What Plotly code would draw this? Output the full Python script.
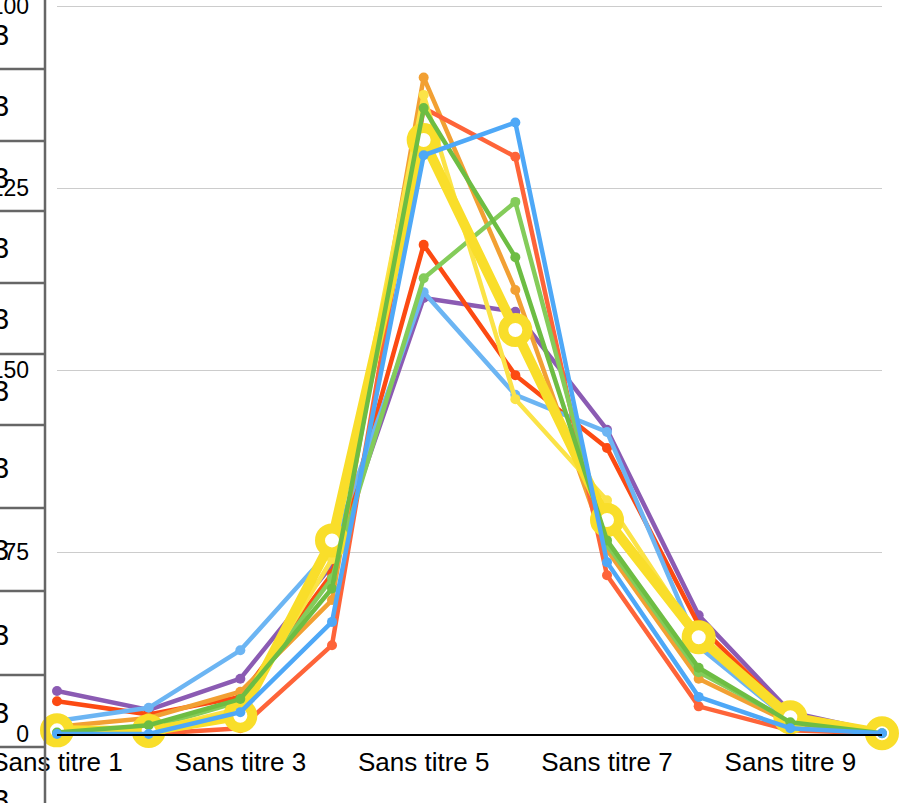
import plotly.graph_objects as go

# ---------------- data ----------------
categories = [f"Sans titre {i}" for i in range(1, 11)]
tick_labels_x = ["Sans titre 1", "Sans titre 3", "Sans titre 5", "Sans titre 7", "Sans titre 9"]
y_tickvals = [0, 25, 50, 75, 100]
y_ticktext = ["0", "175", "150", "125", "100"]

purple = [5.9, 3.3, 7.6, 23.2, 59.9, 58.0, 41.8, 16.3, 3.0, 0.2]
red = [4.5, 2.7, 5.1, 22.0, 67.2, 49.3, 39.3, 15.0, 2.5, 0.3]
lightblue = [1.8, 3.6, 11.5, 25.5, 60.7, 46.6, 41.5, 12.0, 1.8, 0.2]
orange = [1.0, 2.2, 5.8, 18.4, 90.2, 61.0, 25.3, 7.6, 1.5, 0.1]
tomato = [0.1, 0.0, 0.8, 12.2, 86.0, 79.3, 21.8, 3.8, 0.5, 0.1]
lightgreen = [0.3, 0.8, 4.5, 21.4, 62.6, 73.1, 26.0, 8.5, 1.8, 0.2]
yellow_thin = [0.2, 0.5, 3.5, 24.0, 87.8, 46.0, 32.1, 13.0, 2.2, 0.2]
yellow_thick = [0.5, 0.4, 2.5, 26.6, 81.6, 55.5, 29.4, 13.3, 2.3, 0.1]
green = [0.2, 1.2, 4.8, 20.0, 86.0, 65.5, 26.6, 9.1, 1.6, 0.1]
blue = [0.0, 0.0, 3.0, 15.4, 79.5, 84.0, 23.6, 5.1, 0.8, 0.1]

left_column_label = "3"

# ---------------- layout geometry ----------------
W, H = 908, 803
ML, MR, MT, MB = 57, 26, 5, 69
PW, PH = W - ML - MR, H - MT - MB
Y_MAX = 100.15


def px_x(px):
    return (px - ML) / PW


def px_y(py):
    return (H - MB - py) / PH


FONT = "Liberation Sans, Arial, Helvetica, sans-serif"

fig = go.Figure()

thin_series = [
    (purple, "#8b5bb3"),
    (red, "#fc4a12"),
    (lightblue, "#6cb5f3"),
    (orange, "#f2a033"),
    (tomato, "#fe6439"),
    (lightgreen, "#84cc5a"),
    (yellow_thin, "#fbe347"),
]
for vals, col in thin_series:
    fig.add_trace(go.Scatter(
        x=categories, y=vals, mode="lines+markers",
        line=dict(color=col, width=4.5),
        marker=dict(color=col, size=10),
        cliponaxis=False, showlegend=False,
    ))

fig.add_trace(go.Scatter(
    x=categories, y=yellow_thick, mode="lines+markers",
    line=dict(color="#f9de2a", width=10),
    marker=dict(color="white", size=24, line=dict(color="#f9de2a", width=10)),
    cliponaxis=False, showlegend=False,
))

for vals, col in [(green, "#6dbd43"), (blue, "#4ea8f7")]:
    fig.add_trace(go.Scatter(
        x=categories, y=vals, mode="lines+markers",
        line=dict(color=col, width=4.5),
        marker=dict(color=col, size=10),
        cliponaxis=False, showlegend=False,
    ))

# left table-like column
shapes = [dict(type="line", xref="paper", yref="paper",
               x0=px_x(45), x1=px_x(45), y0=px_y(0), y1=px_y(H),
               line=dict(color="#666666", width=2.5))]
for by in [69, 141, 211, 283, 354, 425, 508, 591, 675, 747]:
    shapes.append(dict(type="line", xref="paper", yref="paper",
                       x0=px_x(0), x1=px_x(45), y0=px_y(by), y1=px_y(by),
                       line=dict(color="#666666", width=2.5)))

annotations = []
for cy in [35, 106, 178, 248, 319, 391, 468, 550, 635, 713, 800]:
    annotations.append(dict(
        text=left_column_label, xref="paper", yref="paper",
        x=px_x(-9), y=px_y(cy), xanchor="left", yanchor="middle",
        showarrow=False, font=dict(family=FONT, size=29, color="black"),
    ))

fig.update_layout(
    width=W, height=H,
    margin=dict(l=ML, r=MR, t=MT, b=MB, autoexpand=False),
    paper_bgcolor="white", plot_bgcolor="white",
    shapes=shapes, annotations=annotations,
    xaxis=dict(
        type="category", range=[0, 9], showgrid=False, zeroline=False,
        showline=True, linecolor="black", linewidth=2,
        tickmode="array", tickvals=tick_labels_x, ticktext=tick_labels_x,
        ticks="", tickfont=dict(family=FONT, size=26, color="black"),
        ticklabelstandoff=4, ticklabeloverflow="allow",
    ),
    yaxis=dict(
        range=[0, Y_MAX], tickmode="array", tickvals=y_tickvals, ticktext=y_ticktext,
        showgrid=True, gridcolor="#cccccc", gridwidth=1, zeroline=False,
        showline=False, ticks="", tickfont=dict(family=FONT, size=23, color="black"),
        ticklabelstandoff=27, ticklabeloverflow="allow",
    ),
)

fig.write_html(
    "out.html",
    config={"displayModeBar": False},
    post_script="document.body.style.margin='0px';document.body.style.overflow='hidden';",
)
